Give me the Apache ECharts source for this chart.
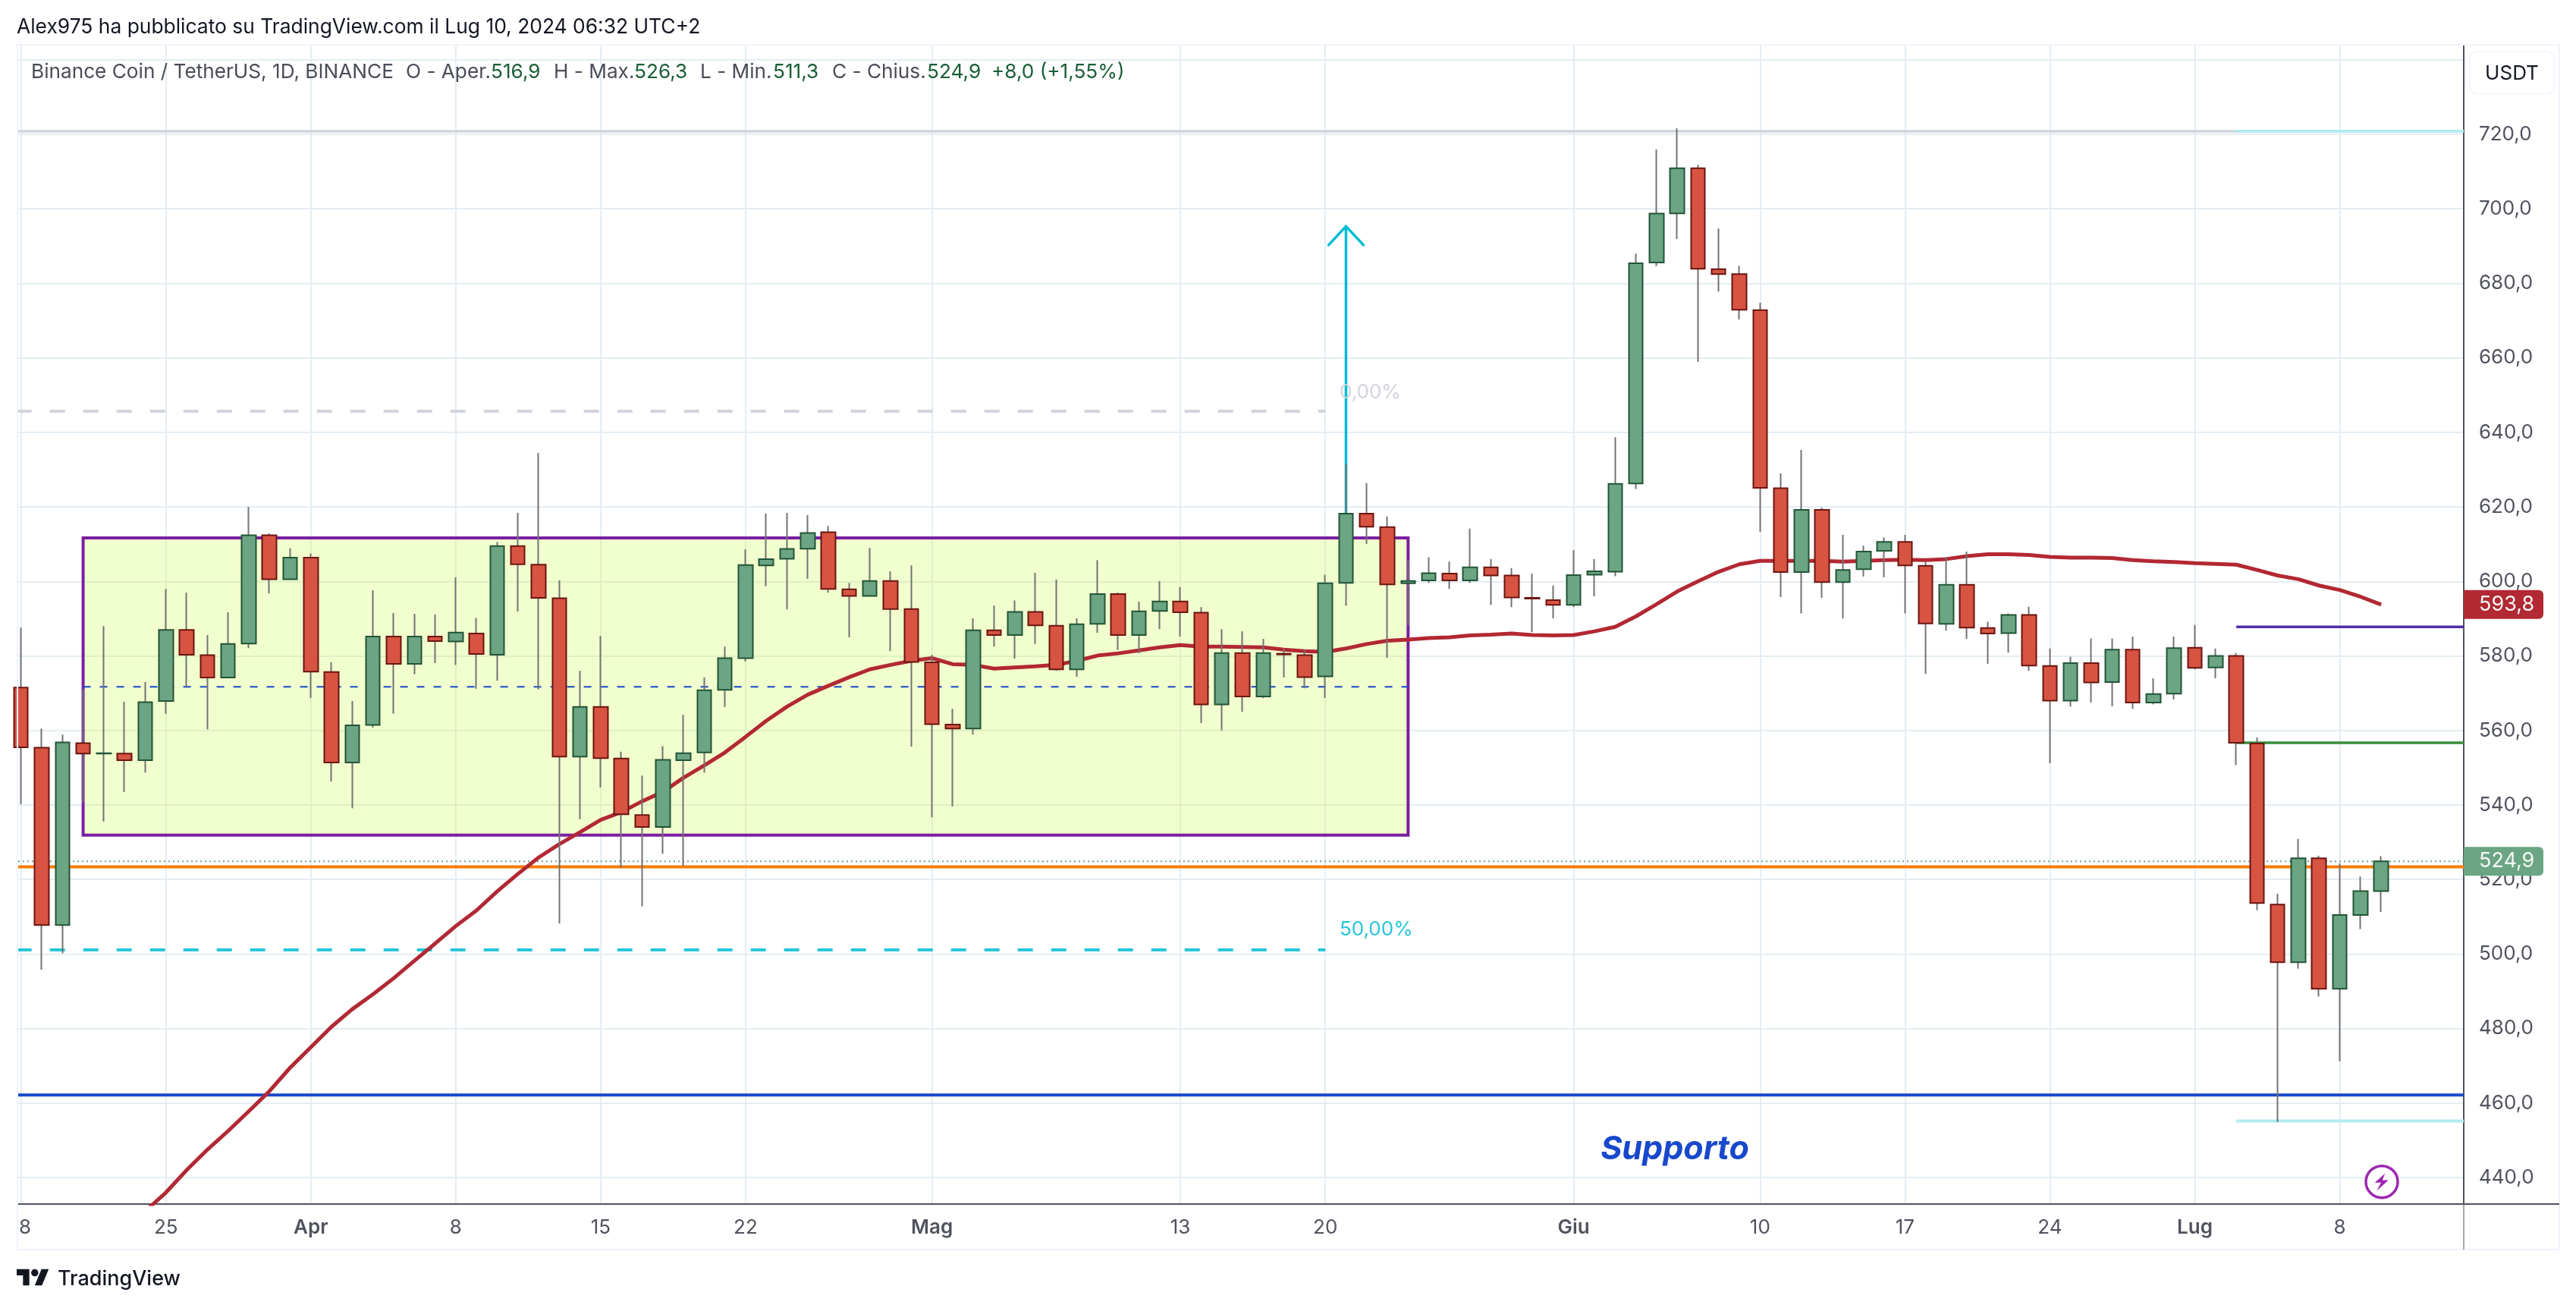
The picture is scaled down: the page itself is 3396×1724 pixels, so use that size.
<!DOCTYPE html>
<html>
<head>
<meta charset="utf-8">
<title>Binance Coin / TetherUS</title>
<style>
    html, body { margin: 0; padding: 0; background: #fff; }
    #chart { width: 3396px; height: 1724px; }
</style>
<script src="https://cdn.jsdelivr.net/npm/echarts@6/dist/echarts.min.js"></script>
</head>
<body>
<div id="chart"></div>
<script>
// daily candles, day 0 = Mar 18 2024
var opens = [
    571.5, 555.4, 507.8, 556.6, 553.8, 553.8, 552.0, 567.9, 587.0, 580.2,
    574.2, 583.3, 612.4, 600.6, 606.4, 575.7, 551.4, 561.5, 585.2, 577.9,
    585.2, 583.9, 586.0, 580.3, 609.5, 604.5, 595.5, 553.0, 566.3, 552.5,
    537.3, 534.1, 552.0, 554.1, 570.9, 579.4, 604.3, 606.1, 608.8, 613.2,
    597.9, 596.1, 600.1, 592.6, 578.3, 561.6, 560.5, 586.9, 585.6, 591.8,
    588.1, 576.4, 588.6, 596.6, 585.6, 592.1, 594.6, 591.6, 567.0, 580.8,
    569.1, 580.6, 580.2, 574.5, 599.6, 618.2, 614.6, 599.5, 600.3, 602.1,
    600.3, 603.8, 601.6, 595.6, 595.0, 593.7, 601.8, 602.6, 626.3, 685.6,
    698.8, 710.9, 683.8, 682.5, 672.8, 625.0, 602.5, 619.2, 599.8, 603.3,
    608.2, 610.6, 604.2, 588.6, 599.1, 587.5, 586.1, 591.0, 577.3, 568.0,
    578.1, 573.0, 581.7, 567.5, 569.9, 582.2, 576.9, 580.0, 556.5, 513.3,
    497.8, 525.7, 490.7, 510.5, 516.9
];
var closes = [
    555.5, 507.8, 556.8, 553.8, 553.9, 552.0, 567.6, 587.0, 580.3, 574.2,
    583.2, 612.4, 600.6, 606.4, 575.8, 551.4, 561.4, 585.2, 577.9, 585.2,
    584.0, 586.3, 580.5, 609.5, 604.6, 595.6, 553.0, 566.3, 552.6, 537.5,
    534.1, 552.1, 553.9, 570.8, 579.4, 604.4, 606.0, 608.7, 613.0, 598.0,
    596.1, 600.1, 592.6, 578.4, 561.7, 560.5, 586.9, 585.6, 591.8, 588.2,
    576.4, 588.5, 596.6, 585.6, 592.0, 594.6, 591.7, 567.0, 580.8, 569.1,
    580.8, 580.4, 574.3, 599.5, 618.2, 614.7, 599.2, 600.1, 602.2, 600.3,
    603.8, 601.6, 595.7, 595.4, 593.7, 601.7, 602.7, 626.2, 685.4, 698.7,
    710.9, 683.9, 682.5, 672.9, 625.1, 602.5, 619.2, 599.8, 603.1, 608.0,
    610.6, 604.3, 588.7, 599.1, 587.6, 586.0, 591.0, 577.4, 568.0, 578.1,
    572.9, 581.7, 567.5, 569.8, 582.1, 576.8, 580.0, 556.7, 513.7, 497.8,
    525.7, 490.7, 510.5, 516.9, 524.9
];
var lows = [
    540.2, 495.8, 500.2, 540.7, 535.6, 543.5, 548.7, 564.5, 571.8, 560.3,
    574.2, 582.1, 596.8, 600.6, 568.7, 546.3, 539.1, 560.8, 564.5, 575.1,
    578.1, 577.6, 571.2, 573.4, 591.9, 571.0, 508.2, 536.2, 544.7, 523.1,
    512.8, 526.9, 523.6, 548.7, 566.3, 578.5, 598.7, 592.5, 600.7, 597.0,
    585.0, 596.1, 581.3, 555.7, 536.7, 539.6, 558.9, 582.5, 579.3, 583.2,
    576.0, 574.4, 586.2, 581.6, 580.7, 587.2, 585.2, 562.0, 560.0, 565.0,
    568.7, 574.2, 571.3, 568.7, 593.5, 610.1, 579.5, 588.2, 599.6, 598.0,
    599.6, 593.7, 593.1, 586.4, 590.1, 593.1, 596.0, 601.4, 624.8, 684.6,
    691.9, 658.9, 677.8, 670.3, 613.3, 595.8, 591.4, 595.6, 590.1, 601.3,
    601.1, 591.4, 575.2, 586.8, 584.6, 577.9, 580.9, 576.0, 551.2, 566.4,
    567.5, 566.5, 565.8, 567.0, 568.3, 576.4, 574.0, 550.7, 511.8, 454.9,
    496.1, 488.6, 471.2, 506.7, 511.3
];
var highs = [
    587.6, 560.5, 558.9, 571.1, 588.0, 567.7, 573.0, 598.0, 597.0, 585.6,
    591.7, 620.0, 612.9, 608.9, 607.5, 578.3, 567.9, 597.6, 591.5, 591.3,
    591.1, 601.1, 590.2, 610.6, 618.4, 634.5, 600.3, 576.0, 585.4, 554.3,
    547.9, 555.8, 564.2, 574.2, 582.5, 608.6, 618.2, 618.4, 617.8, 614.9,
    599.6, 609.0, 602.7, 604.3, 580.3, 565.8, 590.1, 593.5, 594.9, 602.3,
    600.5, 590.1, 605.7, 597.0, 594.6, 600.1, 598.5, 593.1, 587.2, 586.6,
    584.6, 582.0, 581.8, 601.8, 631.5, 626.4, 617.4, 605.6, 606.5, 605.3,
    614.2, 606.0, 603.6, 602.1, 598.9, 608.4, 606.0, 638.7, 688.0, 715.9,
    721.6, 711.8, 694.7, 684.7, 674.8, 629.0, 635.3, 619.8, 612.5, 609.6,
    611.8, 612.5, 605.3, 606.6, 608.0, 589.2, 591.4, 593.2, 582.0, 579.8,
    584.7, 584.7, 585.2, 574.0, 585.2, 588.3, 582.0, 580.8, 558.1, 516.2,
    530.9, 526.4, 524.3, 520.8, 526.3
];
// moving average, comes in from below the pane
var maValues = [
    null, null, null, null, null, null, 431.0, 436.0, 442.0, 447.5,
    452.5, 457.8, 463.2, 469.5, 475.0, 480.5, 485.2, 489.2, 493.5, 498.2,
    502.8, 507.5, 511.7, 516.8, 521.5, 525.9, 529.5, 532.7, 536.0, 538.1,
    541.0, 543.5, 547.3, 550.6, 554.1, 558.3, 562.6, 566.4, 569.6, 572.0,
    574.3, 576.4, 577.6, 578.7, 579.4, 577.8, 577.6, 576.6, 576.9, 577.2,
    577.6, 578.7, 580.1, 580.7, 581.5, 582.3, 582.9, 582.5, 582.5, 582.4,
    582.3, 581.7, 581.3, 581.1, 582.0, 583.2, 584.1, 584.4, 584.8, 585.0,
    585.5, 585.7, 586.0, 585.6, 585.5, 585.6, 586.6, 587.8, 590.6, 593.9,
    597.3, 600.0, 602.6, 604.6, 605.5, 605.5, 605.5, 605.5, 605.3, 605.5,
    605.7, 605.8, 605.7, 606.0, 606.8, 607.3, 607.3, 607.1, 606.6, 606.4,
    606.4, 606.3, 605.7, 605.4, 605.2, 604.9, 604.7, 604.5, 603.1, 601.6,
    600.6, 598.9, 597.7, 595.9, 593.8
];

var xTickDays = [0, 7, 14, 21, 28, 35, 44, 56, 63, 75, 84, 91, 98, 105, 112];
var xTickLabels = ['18', '25', 'Apr', '8', '15', '22', 'Mag', '13', '20', 'Giu', '10', '17', '24', 'Lug', '8'];
var monthLabels = ['Apr', 'Mag', 'Giu', 'Lug'];
var yTicks = [440, 460, 480, 500, 520, 540, 560, 580, 600, 620, 640, 660, 680, 700, 720, 740];

var maLast = 593.8;
var closeLast = 524.9;
var boxTop = 611.7;
var boxBottom = 531.9;
var boxFrom = 3;
var boxTo = 67;
var boxMid = 571.7;
var fibTop = 645.7;
var fibMid = 501.1;
var supportLevel = 462.15;
var orangeLevel = 523.4;
var topLevel = 720.8;
var purpleLevel = 587.8;
var greenLevel = 556.7;
var cyanLowLevel = 455.2;
var arrowBase = 599.6;
var arrowTip = 695.3;

var xMin = -0.1356;
var xMax = 117.99;
var yMin = 432.9;
var yMax = 744.03;

var chartFont = 'Inter, "Noto Sans", sans-serif';
var labelGray = '#50535e';

function wickData() {
    return opens.map(function (o, i) {
        return [i, closes[i], closes[i], lows[i], highs[i]];
    });
}

function bodyData() {
    return opens.map(function (o, i) {
        return [i, o, closes[i], Math.min(o, closes[i]), Math.max(o, closes[i])];
    });
}

function levelLine(name, value, from, to, color, width, dash, z) {
    return {
        name: name,
        type: 'line',
        silent: true,
        showSymbol: false,
        symbol: 'none',
        z: z || 2,
        lineStyle: {color: color, width: width, type: dash || 'solid', cap: 'butt'},
        data: [[from, value], [to, value]]
    };
}

function textMark(name, day, value, text, color, size, weight, style) {
    return {
        name: name,
        type: 'scatter',
        silent: true,
        symbolSize: 0,
        z: 8,
        itemStyle: {opacity: 1},
        data: [[day, value]],
        label: {
            show: true,
            position: 'right',
            distance: 0,
            formatter: text,
            color: color,
            fontFamily: chartFont,
            fontSize: size,
            fontWeight: weight || 400,
            fontStyle: style || 'normal'
        }
    };
}

var chart = echarts.init(document.getElementById('chart'), null, {renderer: 'canvas'});

var series = [
    {
        name: 'box',
        type: 'line',
        silent: true,
        z: 1,
        data: [],
        markArea: {
            silent: true,
            itemStyle: {color: 'rgba(205,250,70,0.27)', borderColor: '#7b1fa2', borderWidth: 4},
            data: [[{coord: [boxFrom, boxTop]}, {coord: [boxTo, boxBottom]}]]
        }
    },
    levelLine('box mid', boxMid, boxFrom, boxTo, '#1848cc', 2, [10, 12]),
    levelLine('fib 0', fibTop, -0.22, 63, '#d1d4dc', 4, [20, 24]),
    levelLine('fib 50', fibMid, -0.22, 63, '#26c6da', 4, [20, 24]),
    levelLine('top gray', topLevel, xMin, xMax, '#d1d4dc', 3.5),
    levelLine('top cyan', topLevel, 107, xMax, '#b2ebf2', 4),
    levelLine('support', supportLevel, xMin, xMax, '#1848cc', 4),
    levelLine('orange', orangeLevel, xMin, xMax, '#f57c00', 4),
    levelLine('last close', closeLast, xMin, xMax, '#6ba583', 2, [2, 4]),
    levelLine('purple', purpleLevel, 107, xMax, '#512da8', 3.5),
    levelLine('green', greenLevel, 107, xMax, '#388e3c', 3.5),
    levelLine('cyan low', cyanLowLevel, 107, xMax, '#b2ebf2', 4),
    {
        name: 'arrow',
        type: 'line',
        silent: true,
        symbol: 'none',
        z: 2,
        lineStyle: {color: '#00bcd4', width: 3.5},
        data: [[64, arrowBase], [64, arrowTip]]
    },
    {
        name: 'arrow head',
        type: 'line',
        silent: true,
        symbol: 'none',
        z: 2,
        lineStyle: {color: '#00bcd4', width: 3.5, cap: 'round', join: 'miter'},
        data: [[63.16, arrowTip - 5], [64, arrowTip], [64.84, arrowTip - 5]]
    },
    {
        name: 'MA',
        type: 'line',
        silent: true,
        symbol: 'none',
        showSymbol: false,
        z: 3,
        lineStyle: {color: '#b22833', width: 5},
        data: maValues.map(function (v, i) { return [i, v]; }).filter(function (p) { return p[1] !== null; })
    },
    {
        name: 'wicks',
        type: 'candlestick',
        silent: true,
        clip: true,
        barWidth: 0,
        z: 4,
        itemStyle: {
            color: '#737375', color0: '#737375',
            borderColor: '#737375', borderColor0: '#737375', borderColorDoji: '#737375',
            borderWidth: 2
        },
        data: wickData()
    },
    {
        name: 'bodies',
        type: 'candlestick',
        silent: true,
        clip: true,
        barWidth: 19,
        z: 5,
        itemStyle: {
            color: '#6ba583', color0: '#d75442',
            borderColor: '#225437', borderColor0: '#6b1510', borderColorDoji: '#6b1510',
            borderWidth: 2
        },
        data: bodyData()
    },
    textMark('fib 0 label', 63.69, 650.8, '0,00%', '#d1d4dc', 26),
    textMark('fib 50 label', 63.69, 506.6, '50,00%', '#26c6da', 26),
    textMark('support label', 76.3, 447.5, 'Supporto', '#1848cc', 43, 700, 'italic')
];

chart.setOption({
    backgroundColor: '#fff',
    animation: false,
    grid: {left: 24, right: 148, top: 59, bottom: 137, containLabel: false},
    xAxis: {
        type: 'value',
        min: xMin,
        max: xMax,
        axisLine: {onZero: false, lineStyle: {color: labelGray, width: 2}},
        axisTick: {show: false, customValues: xTickDays},
        splitLine: {show: true, lineStyle: {color: '#e4edf3', width: 2}},
        axisLabel: {
            customValues: xTickDays,
            margin: 18,
            color: labelGray,
            fontFamily: chartFont,
            fontSize: 26,
            hideOverlap: false,
            formatter: function (value) {
                var text = xTickLabels[xTickDays.indexOf(value)];
                return monthLabels.indexOf(text) >= 0 ? '{m|' + text + '}' : text;
            },
            rich: {m: {fontFamily: chartFont, fontSize: 26, fontWeight: 600, color: labelGray}}
        }
    },
    yAxis: {
        type: 'value',
        position: 'right',
        min: yMin,
        max: yMax,
        axisLine: {show: true, onZero: false, lineStyle: {color: labelGray, width: 2}},
        axisTick: {show: false, customValues: yTicks},
        splitLine: {show: true, lineStyle: {color: '#e4edf3', width: 2}},
        axisLabel: {
            customValues: yTicks,
            margin: 20,
            align: 'left',
            color: labelGray,
            fontFamily: chartFont,
            fontSize: 26,
            formatter: function (value) {
                return value.toFixed(1).replace('.', ',');
            }
        }
    },
    series: series
});

// legend line pieces, placed one by one
var legendGray = '#4a4d57';
var legendGreen = '#1b5e37';
var legendPieces = [
    ['Binance Coin / TetherUS, 1D, BINANCE', 41, legendGray],
    ['O - Aper.', 535, legendGray],
    ['516,9', 647, legendGreen],
    ['H - Max.', 730, legendGray],
    ['526,3', 836, legendGreen],
    ['L - Min.', 923, legendGray],
    ['511,3', 1019, legendGreen],
    ['C - Chius.', 1097, legendGray],
    ['524,9', 1222, legendGreen],
    ['+8,0 (+1,55%)', 1307, legendGreen]
];

function plainText(text, x, y, size, color, align, weight) {
    return {
        type: 'text',
        z: 100,
        silent: true,
        style: {
            text: text, x: x, y: y,
            fill: color,
            font: (weight || 400) + ' ' + size + 'px ' + chartFont,
            textAlign: align || 'left',
            textVerticalAlign: 'middle'
        }
    };
}

function priceBadge(value, text, color) {
    var y = chart.convertToPixel({yAxisIndex: 0}, value);
    return [
        {
            type: 'rect',
            z: 60,
            silent: true,
            shape: {x: 3248, y: y - 19, width: 105, height: 38, r: [0, 6, 6, 0]},
            style: {fill: color}
        },
        plainText(text, 3268, y, 27, '#f4f6f5')
    ];
}

var logoX = 22;
var logoY = 1668;
var logoScale = 1.19;

function logoPoints(points) {
    return points.map(function (p) {
        return [logoX + p[0] * logoScale, logoY + p[1] * logoScale];
    });
}

var graphics = [
    // hides the part of the first tick label that runs off the pane
    {type: 'rect', z: 90, silent: true, shape: {x: 0, y: 1596, width: 23, height: 44}, style: {fill: '#fff'}},
    {type: 'rect', z: 95, silent: true, shape: {x: 23, y: 59, width: 3351, height: 1588},
        style: {fill: 'none', stroke: '#f0f3fa', lineWidth: 2}},
    {type: 'line', z: 96, silent: true, shape: {x1: 3248, y1: 1587, x2: 3374, y2: 1587},
        style: {stroke: labelGray, lineWidth: 2}},
    {type: 'line', z: 96, silent: true, shape: {x1: 3248, y1: 1587, x2: 3248, y2: 1647},
        style: {stroke: labelGray, lineWidth: 1}},
    {type: 'rect', z: 97, silent: true, shape: {x: 3256, y: 68, width: 111, height: 56, r: 10},
        style: {fill: '#fff', stroke: '#f0f3fa', lineWidth: 1.5}},
    plainText('USDT', 3311.5, 97, 26, '#131722', 'center'),
    plainText('Alex975 ha pubblicato su TradingView.com il Lug 10, 2024 06:32 UTC+2', 22, 36, 26.4, '#131722'),
    // lightning marker
    {type: 'circle', z: 50, silent: true, shape: {cx: 3140, cy: 1557.7, r: 21},
        style: {fill: '#fff', stroke: '#9c27b0', lineWidth: 3.5}},
    {type: 'polygon', z: 51, silent: true, shape: {points: [
        [3144.3, 1546.7], [3130.7, 1558.7], [3139, 1558.7], [3133.3, 1569.4], [3148.7, 1555.4], [3140.7, 1555.4]
    ]}, style: {fill: '#9c27b0'}},
    // TradingView logo
    {type: 'polygon', z: 97, silent: true, shape: {points: logoPoints([[14, 22], [7, 22], [7, 11], [0, 11], [0, 4], [14, 4]])},
        style: {fill: '#131722'}},
    {type: 'polygon', z: 97, silent: true, shape: {points: logoPoints([[28, 22], [20, 22], [27.5, 4], [35.5, 4]])},
        style: {fill: '#131722'}},
    {type: 'circle', z: 97, silent: true, shape: {cx: logoX + 20 * logoScale, cy: logoY + 8 * logoScale, r: 4 * logoScale},
        style: {fill: '#131722'}},
    plainText('TradingView', 76, 1686, 27, '#131722', 'left', 500)
];

legendPieces.forEach(function (p) {
    graphics.push(plainText(p[0], p[1], 95, 26.2, p[2]));
});
graphics = graphics.concat(priceBadge(maLast, '593,8', '#b22833'));
graphics = graphics.concat(priceBadge(closeLast, '524,9', '#6ba583'));

chart.setOption({graphic: {elements: graphics}});
</script>
</body>
</html>
